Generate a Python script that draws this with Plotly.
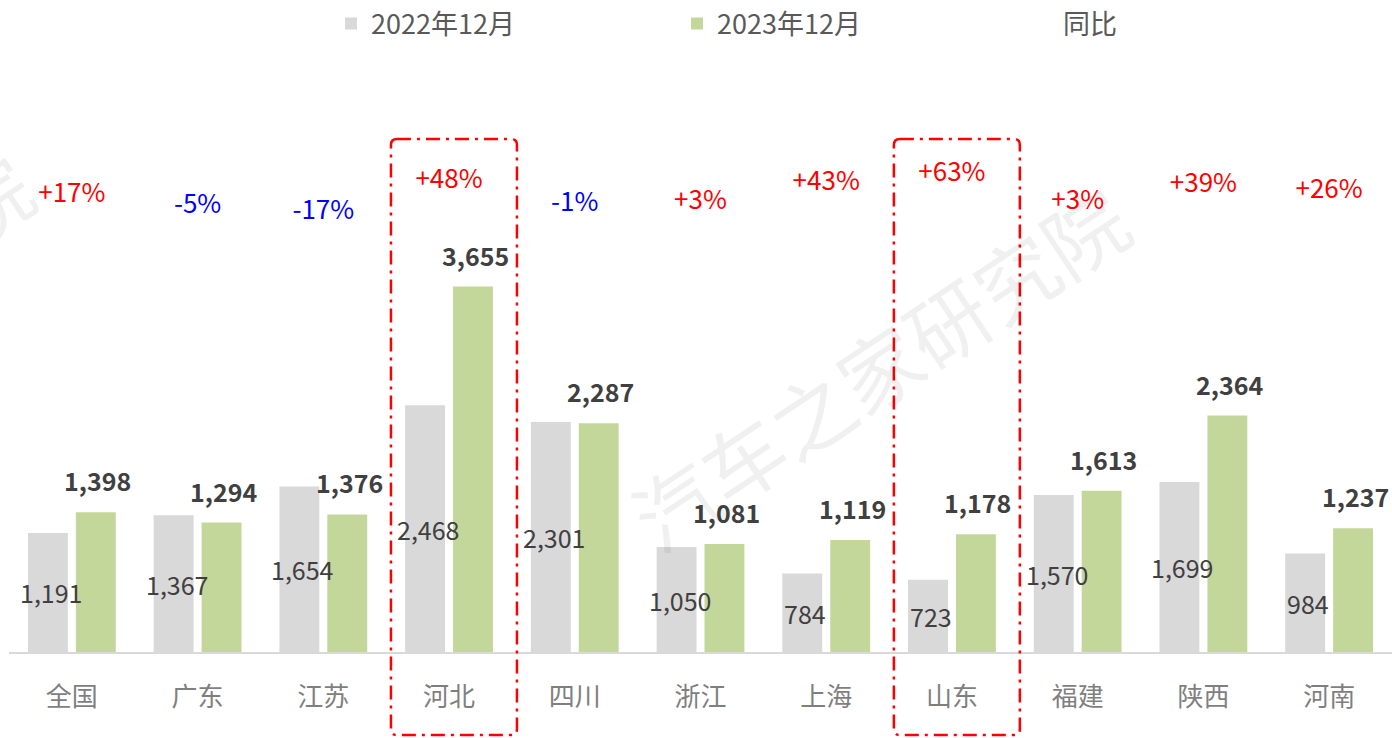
import plotly.graph_objects as go

# ---- data ----
regions = ["全国", "广东", "江苏", "河北", "四川", "浙江", "上海", "山东", "福建", "陕西", "河南"]
sales_2022_12 = [1191, 1367, 1654, 2468, 2301, 1050, 784, 723, 1570, 1699, 984]
sales_2023_12 = [1398, 1294, 1376, 3655, 2287, 1081, 1119, 1178, 1613, 2364, 1237]
yoy_pct = [17, -5, -17, 48, -1, 3, 43, 63, 3, 39, 26]
highlighted = ["河北", "山东"]

# ---- styling ----
FONT = "Noto Sans CJK SC"
GREY = "#D9D9D9"
GREEN = "#C4D79B"
VALUE_COLOR = "#404040"
W, H = 1392, 738
M_L, M_R, M_T, M_B = 9, 0, 140, 86
plot_w = W - M_L - M_R
plot_h = H - M_T - M_B
n = len(regions)

fig = go.Figure()

fig.add_bar(
    name="2022年12月", x=regions, y=sales_2022_12,
    marker=dict(color=GREY, line=dict(width=0)),
    hoverinfo="skip",
)
fig.add_bar(
    name="2023年12月", x=regions, y=sales_2023_12,
    marker=dict(color=GREEN, line=dict(width=0)),
    hoverinfo="skip",
)

# legend entry for the YoY series (line itself is not drawn)
fig.add_scatter(
    name="同比", x=regions, y=yoy_pct, yaxis="y2", mode="lines",
    line=dict(color="rgba(0,0,0,0)", width=0), hoverinfo="skip",
)
# YoY labels
fig.add_scatter(
    x=regions, y=yoy_pct, yaxis="y2", mode="text",
    text=[f"{v:+d}%" for v in yoy_pct],
    textposition="middle center",
    textfont=dict(family=FONT, size=26,
                  color=["#FF0000" if v > 0 else "#0000FF" for v in yoy_pct]),
    showlegend=False, hoverinfo="skip",
)

# 2022 values centred inside their bars (drawn on top, may overlap the neighbour bar)
for r, v in zip(regions, sales_2022_12):
    fig.add_annotation(
        x=r, y=v / 2, text=f"{v:,}", showarrow=False,
        xshift=-21, yanchor="middle",
        font=dict(family=FONT, size=25, color=VALUE_COLOR),
    )

# bold value labels above the 2023 bars
for r, v in zip(regions, sales_2023_12):
    fig.add_annotation(
        x=r, y=v, text=f"<b>{v:,}</b>", showarrow=False,
        xshift=26, yshift=32,
        font=dict(family=FONT, size=25, color=VALUE_COLOR),
    )

# watermark
fig.add_annotation(
    xref="paper", yref="paper", xanchor="center", yanchor="middle",
    x=(878 - M_L) / plot_w, y=(H - M_B - 366) / plot_h,
    text="汽车之家研究院", showarrow=False, textangle=-33.7,
    font=dict(family=FONT, size=82, color="rgba(0,0,0,0.06)"),
)
fig.add_annotation(
    xref="paper", yref="paper", xanchor="center", yanchor="middle",
    x=(-13 - M_L) / plot_w, y=(H - M_B - 197) / plot_h,
    text="院", showarrow=False, textangle=-33.7,
    font=dict(family=FONT, size=82, color="rgba(0,0,0,0.06)"),
)

# dash-dot highlight frames with rounded corners
rx, ry = 6 / plot_w, 6 / plot_h
y_top = (H - M_B - 139) / plot_h
y_bot = (H - M_B - 735) / plot_h
for name in highlighted:
    i = regions.index(name)
    x0 = (i + 0.5 - 0.462) / n
    x1 = (i + 0.5 + 0.54) / n
    path = (
        f"M{x0 + rx},{y_top} L{x1 - rx},{y_top} Q{x1},{y_top} {x1},{y_top - ry} "
        f"L{x1},{y_bot + ry} Q{x1},{y_bot} {x1 - rx},{y_bot} "
        f"L{x0 + rx},{y_bot} Q{x0},{y_bot} {x0},{y_bot + ry} "
        f"L{x0},{y_top - ry} Q{x0},{y_top} {x0 + rx},{y_top} Z"
    )
    fig.add_shape(
        type="path", xref="paper", yref="paper", path=path,
        line=dict(color="#FF0000", width=2.5, dash="14px,6px,3px,6px"),
    )

fig.update_layout(
    width=W, height=H,
    margin=dict(l=M_L, r=M_R, t=M_T, b=M_B, autoexpand=False),
    paper_bgcolor="white", plot_bgcolor="white",
    barmode="group", bargap=0.238, bargroupgap=0.167,
    font=dict(family=FONT),
    showlegend=True,
    legend=dict(
        orientation="h", xanchor="left", yanchor="middle",
        x=(331 - M_L) / plot_w, y=(H - M_B - 24) / plot_h,
        entrywidth=301, entrywidthmode="pixels",
        font=dict(family=FONT, size=27, color="#595959"),
        bgcolor="rgba(0,0,0,0)",
    ),
    xaxis=dict(
        type="category", range=[-0.5, n - 0.5],
        showgrid=False, zeroline=False, automargin=False,
        showline=True, linecolor="#D9D9D9", linewidth=2,
        ticks="", ticklabelstandoff=21,
        tickfont=dict(family=FONT, size=26, color="#7F7F7F"),
    ),
    yaxis=dict(range=[0, plot_h * 10], visible=False, showgrid=False, automargin=False),
    yaxis2=dict(range=[-943.3, 134.6], overlaying="y", side="right",
                visible=False, showgrid=False, automargin=False),
)

fig.write_html("out.html")
